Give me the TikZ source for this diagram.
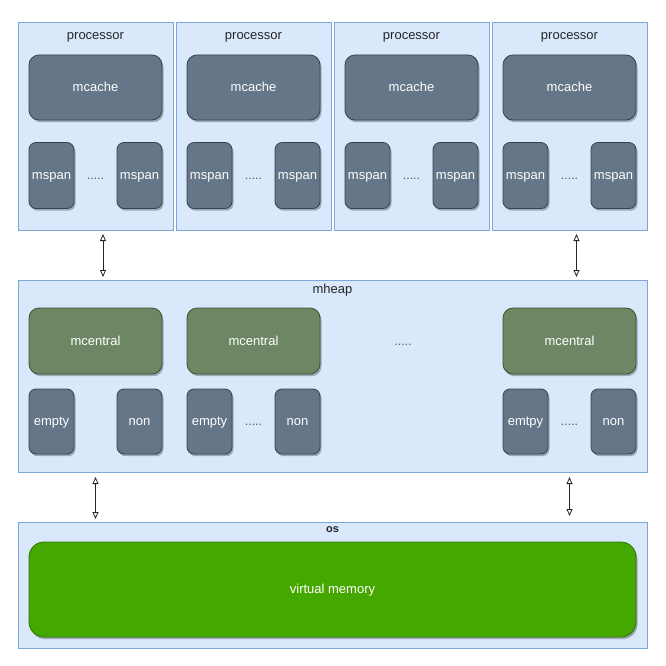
\documentclass[tikz,border=0pt]{standalone}
\usepackage{fontspec}
\setmainfont{Liberation Sans}
\usetikzlibrary{arrows.meta,shadows}

\definecolor{boxfill}{HTML}{DAE8FC}
\definecolor{boxdraw}{HTML}{7EA6D8}
\definecolor{darkfill}{HTML}{647687}
\definecolor{darkdraw}{HTML}{314354}
\definecolor{greenfill}{HTML}{6D8764}
\definecolor{greendraw}{HTML}{3A5431}
\definecolor{vmfill}{HTML}{45A800}
\definecolor{vmdraw}{HTML}{2D7600}

\tikzset{
  every node/.style={inner sep=0pt, outer sep=0pt, font=\fontsize{13}{15}\selectfont},
  container/.style={draw=boxdraw, fill=boxfill, line width=0.9pt},
  softshadow/.style={drop shadow={shadow xshift=1.5pt, shadow yshift=-2.2pt, opacity=0.28, fill=black}},
  % uniform line box so every label sits at the same height in its box
  boxtext/.style={text=white, text height=11.4pt, text depth=3pt},
  cachebox/.style={draw=darkdraw, fill=darkfill, boxtext, line width=0.8pt,
    rounded corners=10pt, minimum width=133pt, minimum height=65pt, softshadow},
  spanbox/.style={draw=darkdraw, fill=darkfill, boxtext, line width=0.8pt,
    rounded corners=7pt, minimum width=45pt, minimum height=66pt, softshadow},
  centralbox/.style={draw=greendraw, fill=greenfill, boxtext, line width=0.8pt,
    rounded corners=10pt, minimum width=133pt, minimum height=66pt, softshadow},
  vmbox/.style={draw=vmdraw, fill=vmfill, boxtext, line width=0.8pt,
    rounded corners=15pt, minimum width=607pt, minimum height=95pt, softshadow},
  caption/.style={text=black!85, anchor=base},
  ellipsis/.style={text=black!65, anchor=base, font=\fontsize{12.5}{14}\selectfont},
  link/.style={draw=black!85, line width=0.8pt,
    {Triangle[open,length=7pt,width=6pt]}-{Triangle[open,length=7pt,width=6pt]}},
}

\begin{document}
\begin{tikzpicture}[x=1pt, y=-1pt]
\useasboundingbox (0,0) rectangle (665,666);

% four processors, each with an mcache and a row of mspans
\foreach \i/\cx in {1/95.5, 2/253.5, 3/411.5, 4/569.5} {
  \node[container, minimum width=155pt, minimum height=208pt] (proc\i) at (\cx,126) {};
  \node[caption] (proclabel\i) at (\cx,39.3) {processor};
  \node[cachebox] (mcache\i) at (\cx,87.5) {mcache};
  \node[spanbox] (spanA\i) at (\cx-44,175.5) {mspan};
  \node[spanbox] (spanB\i) at (\cx+44,175.5) {mspan};
  \node[ellipsis] (spandots\i) at (\cx,179.7) {.....};
}

% mheap with its mcentral lists
\node[container, minimum width=629pt, minimum height=192pt] (mheap) at (332.5,376) {};
\node[caption] (mheaplabel) at (332.5,293.4) {mheap};

\node[centralbox] (central1) at (95.5,341) {mcentral};
\node[spanbox, minimum height=65pt] (empty1) at (51.5,421.5) {empty};
\node[spanbox, minimum height=65pt] (non1) at (139.5,421.5) {non};

\node[centralbox] (central2) at (253.5,341) {mcentral};
\node[spanbox, minimum height=65pt] (empty2) at (209.5,421.5) {empty};
\node[spanbox, minimum height=65pt] (non2) at (297.5,421.5) {non};
\node[ellipsis] (dots2) at (253.5,425.7) {.....};

\node[ellipsis] (centraldots) at (403,345) {.....};

\node[centralbox] (central3) at (569.5,341) {mcentral};
\node[spanbox, minimum height=65pt] (empty3) at (525.5,421.5) {emtpy};
\node[spanbox, minimum height=65pt] (non3) at (613.5,421.5) {non};
\node[ellipsis] (dots3) at (569.5,425.7) {.....};

% operating system
\node[container, minimum width=629pt, minimum height=126pt] (os) at (332.5,585) {};
\node[caption, font=\fontsize{11}{13}\selectfont\bfseries] (oslabel) at (332.5,532.3) {os};
\node[vmbox] (vm) at (332.5,589.5) {virtual memory};

% links between the layers
\draw[link, shorten <=4pt, shorten >=3pt]
  ([xshift=7.5pt]proc1.south) -- ([xshift=7.5pt]proc1.south |- mheap.north);
\draw[link, shorten <=4pt, shorten >=3pt]
  ([xshift=7pt]proc4.south) -- ([xshift=7pt]proc4.south |- mheap.north);
\draw[link, shorten <=5pt, shorten >=3pt]
  (mheap.south -| proc1.south) -- (os.north -| proc1.south);
\draw[link, shorten <=5pt, shorten >=6pt]
  (mheap.south -| proc4.south) -- (os.north -| proc4.south);
\end{tikzpicture}
\end{document}
